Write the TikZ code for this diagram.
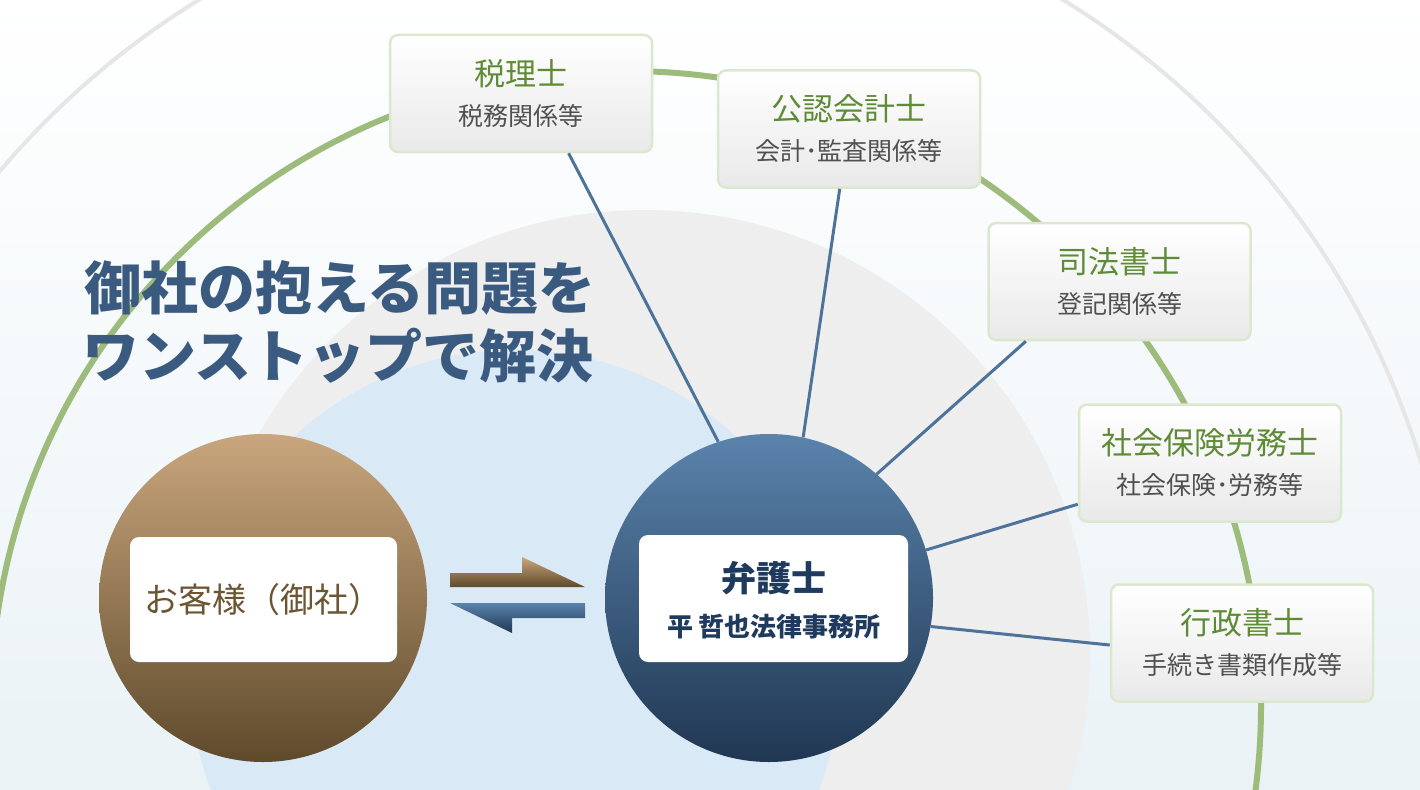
\documentclass[tikz,border=0pt]{standalone}
\usepackage{fontspec}
\setmainfont{Noto Sans CJK JP}
\usetikzlibrary{positioning,calc}

\definecolor{bgbot}{HTML}{EAF2F6}
\definecolor{outergray}{HTML}{E6E6E6}
\definecolor{diskgray}{HTML}{EEEEEE}
\definecolor{diskblue}{HTML}{DAE9F6}
\definecolor{ringgreen}{HTML}{9DBB7A}
\definecolor{linkblue}{HTML}{4D739B}
\definecolor{boxedge}{HTML}{DCE8CE}
\definecolor{boxbot}{HTML}{E9E9E9}
\definecolor{capgreen}{HTML}{5E8B36}
\definecolor{subgray}{HTML}{505050}
\definecolor{headblue}{HTML}{3A5B7F}
\definecolor{clienttop}{HTML}{C9A67D}
\definecolor{clientbot}{HTML}{5E4A2B}
\definecolor{clienttext}{HTML}{6C5531}
\definecolor{lawtop}{HTML}{5A83AC}
\definecolor{lawbot}{HTML}{203752}
\definecolor{lawtext}{HTML}{1E3A5C}

\begin{document}
\begin{tikzpicture}[x=1pt,y=-1pt,
    satbox/.style={draw=boxedge,line width=2.5pt,rounded corners=8pt,top color=white,bottom color=boxbot,
      minimum width=262pt,minimum height=117pt,inner sep=0pt},
    captxt/.style={text=capgreen,font=\fontsize{31}{31}\selectfont},
    subtxt/.style={text=subgray,font=\fontsize{25}{25}\selectfont},
    link/.style={draw=linkblue,line width=3pt},
    ball/.style={circle,minimum size=328pt,inner sep=0pt},
    card/.style={fill=white,rounded corners=9pt,inner sep=0pt},
    headline/.style={text=headblue,font=\fontsize{57}{57}\selectfont\bfseries,inner sep=0pt}]
  \useasboundingbox (0,0) rectangle (1420,789);
  \clip (0,0) rectangle (1420,789);

  % background and rings
  \shade[top color=white,bottom color=bgbot] (0,0) rectangle (1420,789);
  \draw[outergray,line width=4pt] (631,704) circle[radius=826pt];
  \fill[diskgray] (645,655) circle[radius=445pt];
  \fill[diskblue] (515,675) circle[radius=325pt];
  \draw[ringgreen,line width=6pt] (626,706) circle[radius=635pt];

  % headline
  \node[headline] (head1) at (340,288) {御社の抱える問題を};
  \node[headline] (head2) at (338,356) {ワンストップで解決};

  % client and lawyer
  \node[ball,top color=clienttop,bottom color=clientbot] (client) at (263,598) {};
  \node[card,minimum width=267pt,minimum height=125pt,text=clienttext,font=\fontsize{34}{34}\selectfont]
    (clientcard) at (263.5,599.5) {お客様（御社）};
  \node[ball,top color=lawtop,bottom color=lawbot] (law) at (769,598) {};
  \node[card,minimum width=269pt,minimum height=127pt] (lawcard) at (773.5,598.5) {};
  \node[text=lawtext,font=\fontsize{35}{35}\selectfont\bfseries] (lawname) at ([yshift=20pt]lawcard.center) {弁護士};
  \node[text=lawtext,font=\fontsize{26}{26}\selectfont\bfseries] (lawfirm) at ([yshift=-28pt]lawcard.center) {平\hspace{5pt}哲也法律事務所};

  % exchange arrows
  \shade[top color=clienttop,bottom color=clientbot] (450,573) -- (522,573) -- (522,557) -- (585,587) -- (450,587) -- cycle;
  \shade[top color=lawtop,bottom color=lawbot] (450,603) -- (585,603) -- (585,618) -- (512,618) -- (512,633) -- cycle;

  % specialists
  \foreach \n/\x/\y/\t/\s in {tax/521/93.5/税理士/税務関係等,
      cpa/849/129/公認会計士/会計･監査関係等,
      shiho/1119.5/281.5/司法書士/登記関係等,
      sharo/1210/463/社会保険労務士/社会保険･労務等,
      gyosei/1242/643/行政書士/手続き書類作成等} {
    \node[satbox] (\n) at (\x,\y) {};
    \node[captxt] at ([yshift=20pt]\n.center) {\t};
    \node[subtxt] at ([yshift=-22pt]\n.center) {\s};
  }

  % connectors
  \draw[link] ($(tax.south west)!.68!(tax.south east)$) -- (law.108);
  \draw[link] ($(cpa.south west)!.465!(cpa.south east)$) -- (law.78);
  \draw[link] ($(shiho.south west)!.146!(shiho.south east)$) -- (law.49);
  \draw[link] ($(sharo.north west)!.845!(sharo.south west)$) -- (law.17);
  \draw[link] ($(gyosei.north west)!.517!(gyosei.south west)$) -- (law.-10);
\end{tikzpicture}
\end{document}
